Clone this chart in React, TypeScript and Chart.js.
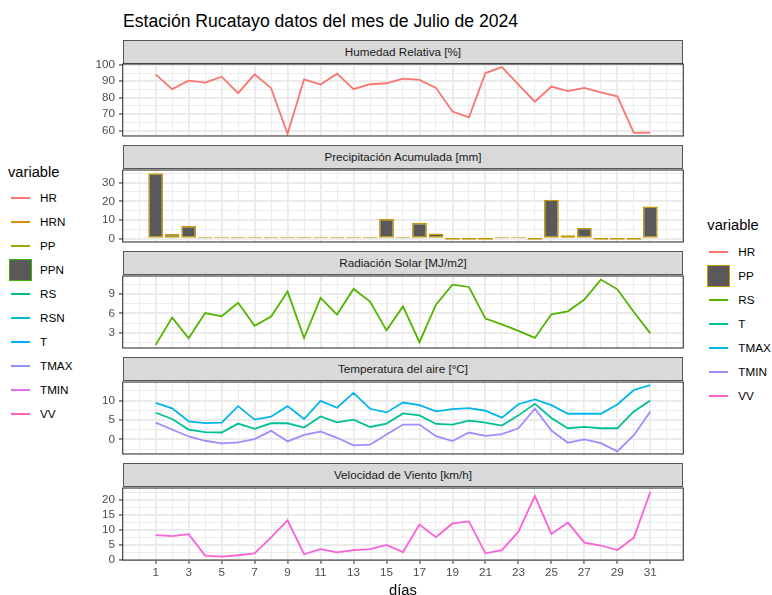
import React, { useEffect, useRef } from "react";
import { Chart, registerables } from "chart.js";

Chart.register(...registerables);

// ---------- data ----------
const days = [1, 2, 3, 4, 5, 6, 7, 8, 9, 10, 11, 12, 13, 14, 15, 16, 17, 18, 19, 20, 21, 22, 23, 24, 25, 26, 27, 28, 29, 30, 31];
const humedadRelativa = [94.2, 85.2, 90.4, 89.2, 92.8, 82.8, 94.2, 85.8, 58.0, 91.2, 88.0, 94.6, 85.2, 88.2, 88.8, 91.6, 90.8, 86.0, 71.6, 68.0, 95.0, 98.6, 88.0, 77.6, 86.8, 84.0, 86.0, 83.2, 80.8, 58.6, 58.8];
const precipitacion = [35.0, 2.5, 6.8, 0.5, 0.2, 0.2, 0.2, 0.2, 0.2, 0.2, 0.2, 0.3, 0.5, 0.2, 10.5, 0.2, 8.4, 2.8, 0, 0, 0, 0.8, 0.2, 0, 20.9, 1.8, 5.8, 0, 0, 0, 17.2];
const radiacion = [1.13, 5.34, 2.15, 6.04, 5.54, 7.63, 4.07, 5.49, 9.35, 2.19, 8.39, 5.8, 9.76, 7.82, 3.37, 7.06, 1.54, 7.32, 10.41, 10.06, 5.19, 4.3, 3.3, 2.2, 5.85, 6.3, 8.13, 11.2, 9.7, 6.2, 2.9];
const tempMedia = [6.86, 5.25, 2.54, 1.86, 1.78, 4.07, 2.71, 4.15, 4.15, 3.05, 5.92, 4.4, 5.08, 3.2, 4.07, 6.69, 6.18, 3.97, 3.81, 4.83, 4.32, 3.56, 6.18, 9.15, 5.5, 2.87, 3.2, 2.87, 2.87, 7.2, 10.0];
const tempMax = [9.4, 8.0, 4.65, 4.2, 4.3, 8.55, 5.08, 5.85, 8.55, 5.25, 9.9, 8.13, 11.95, 7.88, 6.94, 9.48, 8.8, 7.2, 7.78, 8.03, 7.37, 5.6, 9.05, 10.3, 8.8, 6.6, 6.6, 6.6, 8.97, 12.7, 13.98];
const tempMin = [4.32, 2.54, 0.76, -0.34, -1.02, -0.76, 0.08, 2.2, -0.5, 1.17, 2.03, 0.42, -1.53, -1.36, 1.27, 3.81, 3.81, 0.84, -0.42, 1.78, 0.93, 1.35, 2.87, 7.88, 2.29, -0.85, 0.0, -0.94, -3.05, 1.1, 7.2];
const viento = [8.27, 7.95, 8.6, 1.43, 1.1, 1.53, 2.18, 7.5, 13.26, 1.86, 3.6, 2.5, 3.26, 3.6, 5.0, 2.6, 11.85, 7.6, 12.2, 12.9, 2.18, 3.26, 9.45, 21.4, 8.7, 12.5, 5.77, 4.8, 3.26, 7.4, 22.8];

const dayTickLabels = [1, 3, 5, 7, 9, 11, 13, 15, 17, 19, 21, 23, 25, 27, 29, 31];
const hrTicks = [60, 70, 80, 90, 100];
const ppTicks = [0, 10, 20, 30];
const rsTicks = [3, 6, 9];
const tTicks = [0, 5, 10];
const vvTicks = [0, 5, 10, 15, 20];

const panelTitles = [
  "Humedad Relativa [%]",
  "Precipitación Acumulada [mm]",
  "Radiación Solar [MJ/m2]",
  "Temperatura del aire [°C]",
  "Velocidad de Viento [km/h]",
];

const leftLegendLabels = ["HR", "HRN", "PP", "PPN", "RS", "RSN", "T", "TMAX", "TMIN", "VV"];
const leftLegendColors = ["#F8766D", "#D89000", "#A3A500", "#39B600", "#00BF7D", "#00BFC4", "#00B0F6", "#9590FF", "#E76BF3", "#FF62BC"];
const rightLegendLabels = ["HR", "PP", "RS", "T", "TMAX", "TMIN", "VV"];
const rightLegendColors = ["#F8766D", "#C49A00", "#53B400", "#00C094", "#00B6EB", "#A58AFF", "#FB61D7"];

const chartTitle = "Estación Rucatayo datos del mes de Julio de 2024";
const xAxisTitle = "días";
const legendTitle = "variable";

// ---------- layout / style ----------
const FONT = "'Liberation Sans', Arial, Helvetica, sans-serif";
const PL = 122.7;
const PR = 683.3;
const CANVAS_LEFT = 80;
const CANVAS_W = 620;
const STRIP_H = 24;
const PANEL_H = 73;
const X_MIN = -1;
const X_MAX = 33;
const GRID = "#EBEBEB";
const BORDER = "#333333";
const AXIS_TEXT = "#4D4D4D";
const stripTop = (i: number) => 39.5 + 105.9 * i;

type Series = { label: string; values: number[]; color: string };
type PanelSpec = { title: string; min: number; max: number; majors: number[]; kind: "line" | "bar"; series: Series[] };

const panels: PanelSpec[] = [
  { title: panelTitles[0], min: 56.7, max: 100.5, majors: hrTicks, kind: "line", series: [{ label: "HR", values: humedadRelativa, color: rightLegendColors[0] }] },
  { title: panelTitles[1], min: -1.75, max: 36.75, majors: ppTicks, kind: "bar", series: [{ label: "PP", values: precipitacion, color: rightLegendColors[1] }] },
  { title: panelTitles[2], min: 0.65, max: 11.75, majors: rsTicks, kind: "line", series: [{ label: "RS", values: radiacion, color: rightLegendColors[2] }] },
  {
    title: panelTitles[3], min: -3.74, max: 14.75, majors: tTicks, kind: "line", series: [
      { label: "T", values: tempMedia, color: rightLegendColors[3] },
      { label: "TMAX", values: tempMax, color: rightLegendColors[4] },
      { label: "TMIN", values: tempMin, color: rightLegendColors[5] },
    ]
  },
  { title: panelTitles[4], min: -0.1, max: 24.1, majors: vvTicks, kind: "line", series: [{ label: "VV", values: viento, color: rightLegendColors[6] }] },
];

function minorBreaks(majors: number[], min: number, max: number): number[] {
  const step = majors.length > 1 ? majors[1] - majors[0] : 1;
  const out: number[] = [];
  const start = majors[0] - step / 2;
  for (let v = start; v <= majors[majors.length - 1] + step; v += step) {
    if (v > min && v < max && !majors.includes(v)) out.push(v);
  }
  return out;
}

const borderPlugin = {
  id: "panelBorder",
  afterDraw(chart: any) {
    const a = chart.chartArea;
    const ctx = chart.ctx;
    ctx.save();
    ctx.strokeStyle = BORDER;
    ctx.lineWidth = 1.1;
    ctx.strokeRect(a.left, a.top, a.right - a.left, a.bottom - a.top);
    ctx.restore();
  },
};

function Panel({ spec, index, last }: { spec: PanelSpec; index: number; last: boolean }) {
  const ref = useRef<HTMLCanvasElement>(null);
  const panelTop = stripTop(index) + STRIP_H;
  const panelBottom = panelTop + PANEL_H;
  const canvasTop = Math.floor(panelTop - 10);
  const canvasBottom = last ? 595 : Math.ceil(panelBottom + 10);
  const canvasH = canvasBottom - canvasTop;
  const padTop = panelTop - canvasTop;
  const xAxisH = last ? 595 - panelBottom : 0;
  const padBottom = last ? 0 : canvasBottom - panelBottom;

  useEffect(() => {
    if (!ref.current) return;
    const minors = minorBreaks(spec.majors, spec.min, spec.max);
    const yVals = [...spec.majors, ...minors].sort((a, b) => a - b);
    const xVals: number[] = [];
    for (let v = X_MIN; v <= X_MAX; v++) xVals.push(v);

    const datasets: any[] =
      spec.kind === "bar"
        ? spec.series.map((s) => ({
          type: "bar",
          label: s.label,
          data: days.map((d, i) => ({ x: d, y: s.values[i] })),
          backgroundColor: "#595959",
          borderColor: s.color,
          borderWidth: 1.4,
          borderSkipped: false,
          barPercentage: 0.9,
          categoryPercentage: 1,
          minBarLength: 2,
        }))
        : spec.series.map((s) => ({
          type: "line",
          label: s.label,
          data: days.map((d, i) => ({ x: d, y: s.values[i] })),
          borderColor: s.color,
          backgroundColor: s.color,
          borderWidth: 1.8,
          pointRadius: 0,
          tension: 0,
          fill: false,
        }));

    const tickFont = { family: FONT, size: 11.7 };
    const chart = new Chart(ref.current, {
      type: spec.kind,
      data: { datasets },
      options: {
        animation: false,
        responsive: false,
        maintainAspectRatio: false,
        devicePixelRatio: 1,
        events: [],
        layout: { padding: { left: 0, right: CANVAS_LEFT + CANVAS_W - PR, top: padTop, bottom: padBottom } },
        plugins: { legend: { display: false }, tooltip: { enabled: false }, title: { display: false } },
        scales: {
          x: {
            type: "linear",
            min: X_MIN,
            max: X_MAX,
            offset: false,
            afterBuildTicks: (s: any) => { s.ticks = xVals.map((v) => ({ value: v })); },
            afterFit: (s: any) => { s.height = xAxisH; },
            ticks: {
              display: last,
              autoSkip: false,
              maxRotation: 0,
              minRotation: 0,
              padding: 2.3,
              color: AXIS_TEXT,
              font: tickFont,
              callback: (v: any) => (last && dayTickLabels.includes(Number(v)) ? String(v) : ""),
            },
            grid: {
              offset: false,
              color: GRID,
              lineWidth: (c: any) => {
                const v = c.tick ? c.tick.value : 0;
                if (v <= X_MIN || v >= X_MAX) return 0;
                return dayTickLabels.includes(v) ? 1.9 : 0.95;
              },
              drawTicks: last,
              tickLength: 3.7,
              tickWidth: 1.1,
              tickColor: (c: any) => (c.tick && dayTickLabels.includes(c.tick.value) ? BORDER : "rgba(0,0,0,0)"),
            },
            border: { display: false },
          },
          y: {
            type: "linear",
            min: spec.min,
            max: spec.max,
            bounds: "data",
            afterBuildTicks: (s: any) => { s.ticks = yVals.map((v) => ({ value: v })); },
            afterFit: (s: any) => { s.width = PL - CANVAS_LEFT; },
            ticks: {
              autoSkip: false,
              padding: 4,
              color: AXIS_TEXT,
              font: tickFont,
              callback: (v: any) => (spec.majors.includes(Number(v)) ? String(v) : ""),
            },
            grid: {
              color: GRID,
              lineWidth: (c: any) => (c.tick && spec.majors.includes(c.tick.value) ? 1.9 : 0.95),
              drawTicks: true,
              tickLength: 3.7,
              tickWidth: 1.1,
              tickColor: (c: any) => (c.tick && spec.majors.includes(c.tick.value) ? BORDER : "rgba(0,0,0,0)"),
            },
            border: { display: false },
          },
        },
      } as any,
      plugins: [borderPlugin],
    });
    return () => chart.destroy();
  }, []);

  return (
    <>
      <div
        style={{
          position: "absolute",
          left: PL,
          top: stripTop(index),
          width: PR - PL,
          height: STRIP_H,
          boxSizing: "border-box",
          background: "#D9D9D9",
          border: "1px solid #555555",
          color: "#1A1A1A",
          fontSize: 11.7,
          lineHeight: `${STRIP_H - 2}px`,
          textAlign: "center",
          whiteSpace: "nowrap",
        }}
      >
        {spec.title}
      </div>
      <canvas
        ref={ref}
        width={CANVAS_W}
        height={canvasH}
        style={{ position: "absolute", left: CANVAS_LEFT, top: canvasTop, width: CANVAS_W, height: canvasH }}
      />
    </>
  );
}

function Legend({ left, titleTop, labels, colors, boxLabel, textLeft, keyLeft }: {
  left: number; titleTop: number; labels: string[]; colors: string[]; boxLabel: string; textLeft: number; keyLeft: number;
}) {
  return (
    <>
      <div style={{ position: "absolute", left, top: titleTop - 10, height: 20, lineHeight: "20px", fontSize: 14.7, color: "#000", whiteSpace: "nowrap" }}>
        {legendTitle}
      </div>
      {labels.map((lab, i) => {
        const cy = titleTop + 26.6 + 24 * i;
        const isBox = lab === boxLabel;
        return (
          <React.Fragment key={lab}>
            {isBox ? (
              <div style={{ position: "absolute", left: keyLeft - 1.5, top: cy - 11, width: 22.5, height: 22, boxSizing: "border-box", background: "#595959", border: `1.6px solid ${colors[i]}` }} />
            ) : (
              <div style={{ position: "absolute", left: keyLeft, top: cy - 1, width: 19.8, height: 2, background: colors[i] }} />
            )}
            <div style={{ position: "absolute", left: textLeft, top: cy - 10, height: 20, lineHeight: "20px", fontSize: 11.7, color: "#000", whiteSpace: "nowrap" }}>
              {lab}
            </div>
          </React.Fragment>
        );
      })}
    </>
  );
}

export default function App() {
  return (
    <div style={{ position: "fixed", left: 0, top: 0, width: 772, height: 595, background: "#FFFFFF", overflow: "hidden", fontFamily: FONT }}>
      <div style={{ position: "absolute", left: 123, top: 20.8 - 12, height: 24, lineHeight: "24px", fontSize: 17.6, color: "#000", whiteSpace: "nowrap" }}>
        {chartTitle}
      </div>
      <Legend left={8} titleTop={171.7} labels={leftLegendLabels} colors={leftLegendColors} boxLabel="PPN" textLeft={40} keyLeft={10.5} />
      <Legend left={707.3} titleTop={225} labels={rightLegendLabels} colors={rightLegendColors} boxLabel="PP" textLeft={738.3} keyLeft={708.5} />
      {panels.map((p, i) => (
        <Panel key={i} spec={p} index={i} last={i === panels.length - 1} />
      ))}
      <div style={{ position: "absolute", left: PL, width: PR - PL, top: 589.7 - 10, height: 20, lineHeight: "20px", fontSize: 14.7, color: "#000", textAlign: "center" }}>
        {xAxisTitle}
      </div>
    </div>
  );
}
